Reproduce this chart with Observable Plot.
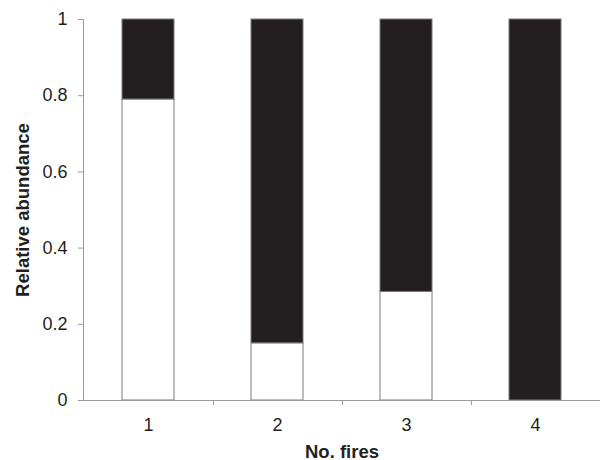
<!DOCTYPE html>
<html>
<head>
<meta charset="utf-8">
<script src="https://cdn.jsdelivr.net/npm/d3@7"></script>
<script src="https://cdn.jsdelivr.net/npm/@observablehq/plot@0.6"></script>
<style>
  html, body { margin: 0; padding: 0; background: #fff; }
</style>
</head>
<body>
<div id="chart"></div>
<script>
// Data
const fires = ["1", "2", "3", "4"];
const lowerShare = [0.79, 0.15, 0.285, 0];     // white segment
const upperShare = [0.21, 0.85, 0.715, 1];     // black segment
const yTicks = [0, 0.2, 0.4, 0.6, 0.8, 1];
const xLabel = "No. fires";
const yLabel = "Relative abundance";

const rows = [];
fires.forEach((f, i) => {
  rows.push({fire: f, group: "lower", value: lowerShare[i]});
  rows.push({fire: f, group: "upper", value: upperShare[i]});
});

const axisColor = "#9a9a9a";

const plot = Plot.plot({
  width: 600,
  height: 460,
  marginLeft: 83,
  marginRight: 0,
  marginTop: 19,
  marginBottom: 60,
  style: {fontFamily: "Liberation Sans, Arial, sans-serif", fontSize: "17px"},
  x: {domain: fires, paddingInner: 0.6, paddingOuter: 0.3},
  y: {domain: [0, 1]},
  color: {domain: ["lower", "upper"], range: ["#ffffff", "#231f20"]},
  marks: [
    Plot.barY(rows, Plot.stackY({x: "fire", y: "value", fill: "group", stroke: "#7a7a7a", strokeWidth: 1, order: null})),
    Plot.axisY({ticks: yTicks, tickSize: 5, tickPadding: 11, stroke: axisColor,
      tickFormat: d => String(+d.toFixed(1)), label: yLabel, labelArrow: "none", labelAnchor: "center", labelOffset: 68}),
    Plot.axisX({tickSize: 0, tickPadding: 18, label: xLabel, labelArrow: "none", labelAnchor: "center", labelOffset: 57})
  ]
});

document.getElementById("chart").appendChild(plot);

const svg = d3.select(plot);
// Text styling
svg.selectAll("text").style("font-family", "'Liberation Sans', Arial, sans-serif")
  .style("font-size", "18px").style("fill", "#231f20");
svg.selectAll('g[aria-label="x-axis label"] text, g[aria-label="y-axis label"] text, g[aria-label="x-axis label"], g[aria-label="y-axis label"]')
  .style("font-weight", "bold").style("font-size", "18.5px");

// Axis lines and between-category ticks derived from the scales
const xs = plot.scale("x");
const ys = plot.scale("y");
const y0 = ys.apply(0), y1 = ys.apply(1);
const left = 83, right = 600;
const g = svg.append("g").attr("stroke", axisColor).attr("stroke-width", 1);
g.append("line").attr("x1", left + 0.5).attr("x2", left + 0.5).attr("y1", y1).attr("y2", y0);
g.append("line").attr("x1", left - 5).attr("x2", right).attr("y1", y0 + 0.5).attr("y2", y0 + 0.5);
for (let i = 0; i < fires.length - 1; i++) {
  const a = xs.apply(fires[i]) + xs.bandwidth;
  const b = xs.apply(fires[i + 1]);
  const m = Math.round((a + b) / 2) + 0.5;
  g.append("line").attr("x1", m).attr("x2", m).attr("y1", y0).attr("y2", y0 + 5);
}
</script>
</body>
</html>
